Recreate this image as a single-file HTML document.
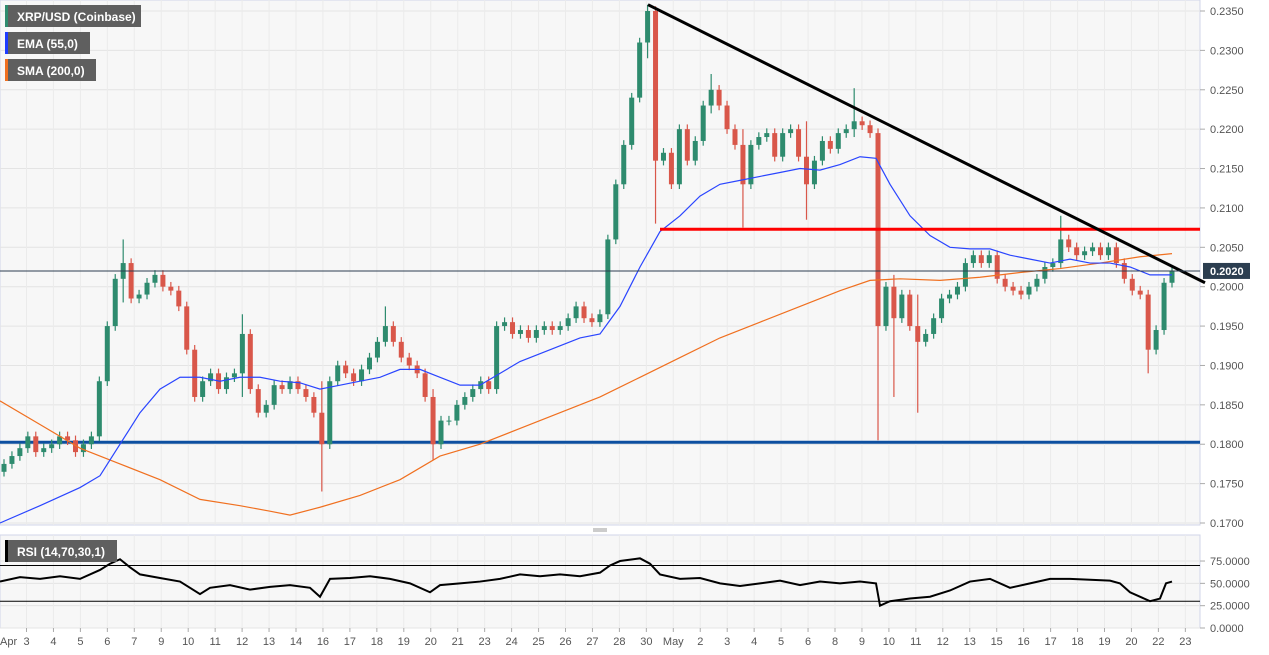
<!DOCTYPE html>
<html><head><meta charset="utf-8"><style>
html,body{margin:0;padding:0;background:#fff;}
svg{display:block;font-family:"Liberation Sans",sans-serif;}
</style></head><body>
<svg id="c" width="1269" height="655" viewBox="0 0 1269 655">
<rect x="0" y="0" width="1200" height="525" fill="#f7f7f7" stroke="#d0d6e8"/>
<rect x="0" y="535" width="1200" height="93" fill="#f7f7f7" stroke="#d0d6e8"/>
<rect x="590" y="527" width="20" height="6" fill="#fff"/>
<line x1="593" y1="529" x2="607" y2="529" stroke="#999"/><line x1="593" y1="531" x2="607" y2="531" stroke="#999"/>
<g id="grid"></g><g id="marks"></g><g id="axes"></g>
<g>
<rect x="5" y="5" width="136" height="22" fill="#5f5f5f"/><rect x="5" y="5" width="3" height="22" fill="#2e8b6e"/>
<text x="17" y="21" fill="#fff" font-size="12" font-weight="bold">XRP/USD (Coinbase)</text>
<rect x="5" y="32" width="85" height="22" fill="#5f5f5f"/><rect x="5" y="32" width="3" height="22" fill="#1e3cff"/>
<text x="17" y="48" fill="#fff" font-size="12" font-weight="bold">EMA (55,0)</text>
<rect x="5" y="59" width="91" height="22" fill="#5f5f5f"/><rect x="5" y="59" width="3" height="22" fill="#f07020"/>
<text x="17" y="75" fill="#fff" font-size="12" font-weight="bold">SMA (200,0)</text>
<rect x="5" y="540" width="112" height="22" fill="#5f5f5f"/><rect x="5" y="540" width="3" height="22" fill="#000"/>
<text x="17" y="556" fill="#fff" font-size="12" font-weight="bold">RSI (14,70,30,1)</text>
</g>
</svg>
<script>
const closes=[0.1775,0.1785,0.1795,0.1810,0.1790,0.1795,0.1800,0.1810,0.1805,0.1790,0.1800,0.1810,0.1880,0.1950,0.2010,0.2030,0.1985,0.1990,0.2005,0.2015,0.2000,0.1995,0.1975,0.1920,0.1860,0.1880,0.1890,0.1870,0.1885,0.1890,0.1940,0.1870,0.1840,0.1850,0.1875,0.1870,0.1880,0.1870,0.1860,0.1840,0.1800,0.1880,0.1900,0.1890,0.1880,0.1895,0.1910,0.1930,0.1950,0.1930,0.1910,0.1900,0.1890,0.1860,0.1800,0.1830,0.1830,0.1850,0.1860,0.1870,0.1880,0.1870,0.1950,0.1955,0.1940,0.1945,0.1935,0.1945,0.1950,0.1945,0.1950,0.1960,0.1975,0.1960,0.1955,0.1965,0.2060,0.2130,0.2180,0.2240,0.2310,0.2350,0.2160,0.2170,0.2130,0.2200,0.2160,0.2185,0.2230,0.2250,0.2230,0.2200,0.2180,0.2130,0.2180,0.2190,0.2195,0.2165,0.2195,0.2200,0.2165,0.2130,0.2160,0.2185,0.2175,0.2195,0.2200,0.2210,0.2205,0.2195,0.1950,0.2000,0.1960,0.1990,0.1950,0.1930,0.1940,0.1960,0.1985,0.1990,0.2000,0.2030,0.2040,0.2030,0.2040,0.2010,0.2000,0.1995,0.1990,0.2000,0.2010,0.2025,0.2030,0.2060,0.2050,0.2040,0.2045,0.2050,0.2040,0.2050,0.2030,0.2010,0.1995,0.1990,0.1920,0.1945,0.2005,0.2020];
const firstOpen=0.1765;
const spikeIdx=[15,30,40,48,54,81,82,89,93,101,107,110,112,115,133,144,145];
const spikeHigh=[0.2060,0.1965,0.1880,0.1975,0.1870,0.2358,0.2350,0.2270,0.2200,0.2210,0.2252,0.2200,0.2015,0.1990,0.2090,0.1990,0.1950];
const spikeLow=[0.1980,0.1860,0.1740,0.1925,0.1780,0.2290,0.2080,0.2220,0.2075,0.2085,0.2190,0.1805,0.1860,0.1840,0.2030,0.1890,0.1915];
const emaX=[0,40,80,100,120,140,160,180,200,220,240,260,280,300,320,340,360,380,400,420,440,460,480,500,520,540,560,580,600,620,640,660,680,700,720,740,760,780,800,820,840,860,876,890,910,930,950,970,990,1010,1030,1050,1070,1090,1110,1130,1150,1172];
const emaV=[0.1700,0.1722,0.1745,0.1760,0.1800,0.1840,0.1870,0.1885,0.1885,0.1880,0.1885,0.1885,0.1880,0.1878,0.1870,0.1875,0.1880,0.1885,0.1895,0.1895,0.1885,0.1875,0.1875,0.1890,0.1905,0.1915,0.1925,0.1935,0.1940,0.1975,0.2025,0.2070,0.2090,0.2115,0.2130,0.2135,0.2140,0.2145,0.2150,0.2148,0.2155,0.2165,0.2163,0.2130,0.2090,0.2065,0.2050,0.2048,0.2048,0.2040,0.2035,0.2030,0.2035,0.2030,0.2030,0.2025,0.2015,0.2015];
const smaX=[0,40,80,120,160,200,240,270,290,320,360,400,440,480,520,560,600,640,680,720,760,800,840,870,900,940,980,1020,1060,1100,1140,1172];
const smaV=[0.1855,0.1825,0.1795,0.1775,0.1755,0.1730,0.1722,0.1715,0.1710,0.1720,0.1735,0.1755,0.1785,0.1800,0.1820,0.1840,0.1860,0.1885,0.1910,0.1935,0.1955,0.1975,0.1995,0.2008,0.2010,0.2008,0.2012,0.2018,0.2023,0.2030,0.2038,0.2042];
const rsiX=[0,20,40,60,80,100,110,120,130,140,160,180,190,200,210,230,250,270,290,310,320,330,350,370,390,410,430,440,460,480,500,520,540,560,580,600,610,620,640,650,660,680,700,720,740,760,780,800,820,840,860,876,880,890,910,930,950,970,990,1010,1030,1050,1070,1090,1110,1120,1130,1150,1160,1166,1172];
const rsiV=[52,57,55,58,55,65,72,77,68,60,56,52,45,38,45,48,43,46,48,45,35,55,56,58,55,50,40,48,50,52,55,60,58,60,58,62,70,75,78,72,60,55,56,50,47,50,53,48,52,50,52,50,25,30,33,35,42,52,55,45,50,55,55,54,53,50,40,30,33,50,52];
const priceTicks=[0.2350,0.2300,0.2250,0.2200,0.2150,0.2100,0.2050,0.2000,0.1950,0.1900,0.1850,0.1800,0.1750,0.1700];
const rsiTicks=[75,50,25,0];
const dateLabels=["3","4","5","6","7","9","10","11","12","13","14","16","17","18","19","20","21","23","24","25","26","27","28","30","May","2","3","4","5","6","8","9","10","11","12","13","15","16","17","18","19","20","22","23"];
const lastPrice=0.2020, resistance=0.2073, support=0.18025;
const trendStart=[0,0.2358], trendEnd=[1,0.2005];

const NS="http://www.w3.org/2000/svg";
const yP=v=>11+(0.235-v)/0.065*512;
const yR=v=>628-v*0.893;
const xI=i=>4+i*(1168/(closes.length-1));
const xD=k=>26.5+k*26.95;
function mk(tag,attrs,parent){const e=document.createElementNS(NS,tag);for(const k in attrs)e.setAttribute(k,attrs[k]);document.getElementById(parent).appendChild(e);return e;}
priceTicks.forEach(v=>{
 const l=mk('line',{x1:0,x2:1200,y1:yP(v),y2:yP(v),stroke:'#e4e4e4'},'grid');
 
 
 const t=mk('text',{x:1210,y:yP(v)+4,'font-size':11,fill:'#555'},'axes');t.textContent=v.toFixed(4);
 
 
 mk('line',{x1:1200,x2:1205,y1:yP(v),y2:yP(v),stroke:'#aaa'},'axes');
});
rsiTicks.forEach(v=>{
 mk('line',{x1:0,x2:1200,y1:yR(v),y2:yR(v),stroke:'#e4e4e4'},'grid');
 const t=mk('text',{x:1210,y:yR(v)+4,'font-size':11,fill:'#555'},'axes');t.textContent=v.toFixed(4);
 
 
 mk('line',{x1:1200,x2:1205,y1:yR(v),y2:yR(v),stroke:'#aaa'},'axes');
});
dateLabels.forEach((d,k)=>{
 const x=xD(k);
 mk('line',{x1:x,x2:x,y1:0,y2:525,stroke:'#ebebeb'},'grid');
 mk('line',{x1:x,x2:x,y1:535,y2:628,stroke:'#ebebeb'},'grid');
 mk('line',{x1:x,x2:x,y1:628,y2:632,stroke:'#aaa'},'axes');
 const t=mk('text',{x:x,y:645,'font-size':11,fill:'#555','text-anchor':'middle'},'axes');t.textContent=d;
 
 
});
const apr=mk('text',{x:0,y:645,'font-size':11,fill:'#555'},'axes');apr.textContent="Apr";


const sl=mk('line',{x1:0,x2:1200,y1:yP(support),y2:yP(support),stroke:'#0d4fa0','stroke-width':3},'marks');


closes.forEach((c,i)=>{
 const o=i===0?firstOpen:closes[i-1];
 const s=spikeIdx.indexOf(i);
 let hi=Math.max(o,c)+0.0006, lo=Math.min(o,c)-0.0006;
 if(s>=0){hi=Math.max(hi,spikeHigh[s]);lo=Math.min(lo,spikeLow[s]);}
 const col=c>=o?'#2e8b6e':'#d9574a';
 const x=xI(i);
 const w=mk('line',{x1:x,x2:x,y1:yP(hi),y2:yP(lo),stroke:col,'stroke-width':1.2},'marks');
 
 
 const top=yP(Math.max(o,c)),bot=yP(Math.min(o,c));
 const b=mk('rect',{x:x-2.5,y:top,width:5,height:Math.max(1,bot-top),fill:col},'marks');
 
 
});
function poly(xs,vs,fy,col,w,name){
 const p=mk('polyline',{points:xs.map((x,i)=>x+','+fy(vs[i])).join(' '),fill:'none',stroke:col,'stroke-width':w},'marks');
 
 
}
poly(smaX,smaV,yP,'#f07020',1.2,'sma-200-line');
poly(emaX,emaV,yP,'#2a45ff',1.2,'ema-55-line');
const rl=mk('line',{x1:660,x2:1200,y1:yP(resistance),y2:yP(resistance),stroke:'#ff0000','stroke-width':3},'marks');


const tx1=648,tx2=1205;
const tl=mk('line',{x1:tx1,x2:tx2,y1:yP(trendStart[1]),y2:yP(trendEnd[1]),stroke:'#000','stroke-width':3},'marks');


const lp=mk('line',{x1:0,x2:1200,y1:yP(lastPrice),y2:yP(lastPrice),stroke:'#2c3e50','stroke-width':1},'marks');


const lb=mk('rect',{x:1203,y:yP(lastPrice)-8,width:47,height:16,fill:'#2c3e50'},'axes');


const lt=mk('text',{x:1210,y:yP(lastPrice)+4,'font-size':11,fill:'#fff','font-weight':'bold'},'axes');lt.textContent=lastPrice.toFixed(4);
[70,30].forEach(v=>{
 const l=mk('line',{x1:0,x2:1200,y1:yR(v),y2:yR(v),stroke:'#000','stroke-width':1},'marks');
 
 
});
poly(rsiX,rsiV,yR,'#000',2,'rsi-line');
</script>
</body></html>
